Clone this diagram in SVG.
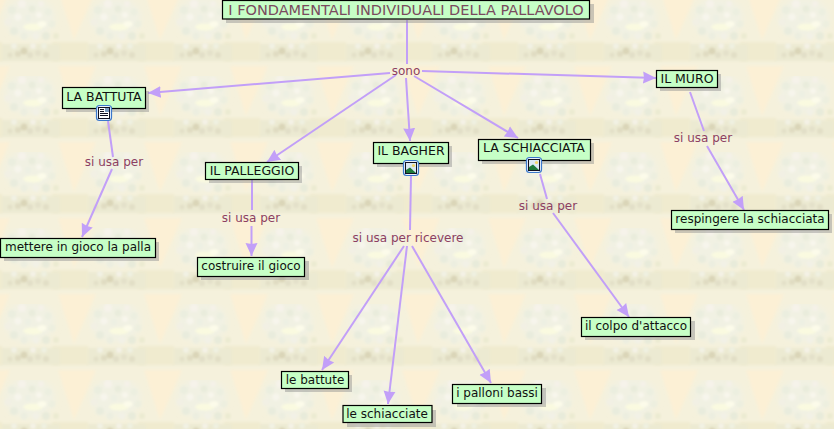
<svg xmlns="http://www.w3.org/2000/svg" width="834" height="429" viewBox="0 0 834 429">
<style>
.n{fill:#c6ffc6;stroke:#000;stroke-width:1.2}
.s{fill:#8f8f8f;opacity:.45}
.t{font-family:"DejaVu Sans",Verdana,sans-serif;font-size:12px;fill:#111;text-anchor:middle}
.l{font-family:"DejaVu Sans",Verdana,sans-serif;font-size:12px;fill:#8c3f62;text-anchor:middle}
.c{fill:none;stroke:#c29ff8;stroke-width:2}
.a{stroke:#c29ff8;stroke-width:2;fill:none;marker-end:url(#arrow)}
</style>
<defs>
<marker id="arrow" markerUnits="userSpaceOnUse" markerWidth="16" markerHeight="16" refX="13" refY="7" orient="auto">
<path d="M0,1 L13,7 L0,13 L1,7 Z" fill="#c29ff8"/>
</marker>
<filter id="b3" x="-30%" y="-30%" width="160%" height="160%"><feGaussianBlur stdDeviation="3"/></filter>
<filter id="b1" x="-30%" y="-30%" width="160%" height="160%"><feGaussianBlur stdDeviation="1.4"/></filter>
<filter id="b0" x="-5%" y="-5%" width="110%" height="110%"><feGaussianBlur stdDeviation="1.1"/></filter>
<g id="tileart">
<path d="M58,66 L96,66 L74,116 Z" fill="#fcf0d5" filter="url(#b1)"/>
<path d="M58,-10 L96,-10 L74,40 Z" fill="#fcf0d5" filter="url(#b1)"/>
<rect x="52" y="42" width="36" height="19" fill="#f0ebcf" filter="url(#b1)"/>
<rect x="0" y="44" width="60" height="17" fill="#ecead2" filter="url(#b1)"/>
<ellipse cx="30" cy="18" rx="25" ry="20" fill="#f1f1e3" filter="url(#b3)"/>
<g filter="url(#b0)">
<circle cx="18" cy="54" r="3" fill="#e0dcc2"/><circle cx="24" cy="51" r="3.500" fill="#dad5b8"/><circle cx="30" cy="55" r="3" fill="#e2dfc8"/><circle cx="38" cy="53" r="3" fill="#e4e1ca"/><circle cx="46" cy="55" r="3" fill="#e2dfc6"/><circle cx="10" cy="55" r="2.500" fill="#e3e0c8"/>
<circle cx="14" cy="46" r="3" fill="#f2f1e4"/><circle cx="33" cy="46" r="3" fill="#f4f2e6"/><circle cx="44" cy="46" r="3" fill="#eff0e0"/>
<circle cx="12" cy="10" r="4" fill="#ebeedf"/><circle cx="22" cy="4" r="4" fill="#f6f3ea"/><circle cx="32" cy="9" r="3.500" fill="#e9ecdc"/><circle cx="41" cy="4" r="3" fill="#f5f2e8"/><circle cx="48" cy="12" r="3.500" fill="#ecefe0"/>
<circle cx="8" cy="22" r="3.500" fill="#f2f0e4"/><circle cx="18" cy="17" r="3.500" fill="#f7f5ec"/><circle cx="28" cy="18" r="3" fill="#edf0e3"/><circle cx="39" cy="15" r="3" fill="#f8f6ec"/><circle cx="52" cy="24" r="3.500" fill="#edefdf"/>
<circle cx="14" cy="31" r="4" fill="#e9ecdd"/><circle cx="24" cy="36" r="3.500" fill="#eceee0"/><circle cx="36" cy="36" r="3.500" fill="#f2f1e6"/><circle cx="46" cy="36" r="4" fill="#e8ebda"/>
<ellipse cx="33" cy="27" rx="10" ry="3.500" fill="#fafae0"/><ellipse cx="42" cy="24" rx="4.500" ry="3" fill="#fcfbea"/>
<circle cx="56" cy="36" r="3" fill="#ecebd2"/>
</g>
</g>
<pattern id="bg" patternUnits="userSpaceOnUse" width="86" height="76">
<rect width="86" height="76" fill="#f5f1dc"/>
<use href="#tileart"/>
<use href="#tileart" x="-86"/>
</pattern>
<g id="picicon">
<rect x="-7.500" y="-7.500" width="15" height="15" rx="3" fill="#eaf2fc" stroke="#3b78cc" stroke-width="1.200"/>
<rect x="-5.500" y="-5.500" width="11" height="11" fill="#dbe8f4" stroke="#112" stroke-width="1"/>
<circle cx="2.500" cy="-2.500" r="1.600" fill="#f5d76a"/>
<path d="M-5,5 L-5,2 L-1,-.5 L5,5 Z" fill="#1f7a3a"/>
</g>
<g id="docicon">
<rect x="-7.500" y="-7.500" width="15" height="15" rx="3" fill="#eaf2fc" stroke="#3b78cc" stroke-width="1.200"/>
<rect x="-5.500" y="-5.500" width="11" height="11" fill="#fff" stroke="#112" stroke-width="1"/>
<rect x="1" y="-5" width="4" height="4" fill="#7a9ac0"/>
<path d="M-4,-3.500H0M-4,-1.500H0M-4,.5H4M-4,2.500H4" stroke="#112" stroke-width="1" fill="none"/>
</g>
</defs>
<rect width="834" height="429" fill="url(#bg)"/>

<g id="connectors">
<path class="c" d="M407,20V64"/>
<path class="a" d="M390,73L148,93"/>
<path class="a" d="M396,75L267,162"/>
<path class="a" d="M406,78L410,141"/>
<path class="a" d="M414,76L518,138"/>
<path class="a" d="M422,71L656,78"/>
<path class="c" d="M108,121L113,157"/>
<path class="a" d="M112,169L82,237"/>
<path class="c" d="M252,180V210"/>
<path class="a" d="M251.500,226V256"/>
<path class="c" d="M411,176L410,230"/>
<path class="a" d="M404,246L322,370"/>
<path class="a" d="M407,246L388,404"/>
<path class="a" d="M412,246L491,383"/>
<path class="c" d="M540,174L547,199"/>
<path class="a" d="M553,213L629,317"/>
<path class="c" d="M690,92L704,131"/>
<path class="a" d="M707,146L744,210"/>
</g>

<g id="labels">
<text class="l" x="406" y="75">sono</text>
<text class="l" x="114" y="166">si usa per</text>
<text class="l" x="251" y="222">si usa per</text>
<text class="l" x="408" y="242">si usa per ricevere</text>
<text class="l" x="548" y="210">si usa per</text>
<text class="l" x="703" y="142">si usa per</text>
</g>

<g id="n-title"><rect class="s" x="226" y="4" width="368" height="19"/><rect class="n" x="222.500" y="0.500" width="367" height="18.500"/><text class="t" x="406" y="15" style="fill:#7a4a5e;font-size:14.5px">I FONDAMENTALI INDIVIDUALI DELLA PALLAVOLO</text></g>
<g id="n-battuta"><rect class="s" x="66" y="91" width="83" height="21"/><rect class="n" x="62.500" y="87.500" width="83" height="21"/><text class="t" x="104" y="101" style="font-size:12.500px">LA BATTUTA</text><use href="#docicon" x="104" y="113"/></g>
<g id="n-palleggio"><rect class="s" x="209" y="166" width="93" height="17"/><rect class="n" x="205.500" y="162.500" width="93" height="17"/><text class="t" x="252" y="175" style="font-size:12.500px">IL PALLEGGIO</text></g>
<g id="n-bagher"><rect class="s" x="377" y="146" width="75" height="21"/><rect class="n" x="373.500" y="142.500" width="75" height="21"/><text class="t" x="411" y="155" style="font-size:12.500px">IL BAGHER</text><use href="#picicon" x="411" y="168"/></g>
<g id="n-schiacciata"><rect class="s" x="482" y="143" width="112" height="21"/><rect class="n" x="478.500" y="139.500" width="112" height="21"/><text class="t" x="534" y="152" style="font-size:12.500px">LA SCHIACCIATA</text><use href="#picicon" x="534" y="165"/></g>
<g id="n-muro"><rect class="s" x="660" y="74" width="61" height="17"/><rect class="n" x="656.500" y="70.500" width="61" height="17"/><text class="t" x="687" y="83" style="font-size:12.500px">IL MURO</text></g>
<g id="n-respingere"><rect class="s" x="675" y="214" width="157" height="19"/><rect class="n" x="671.500" y="210.500" width="157" height="19"/><text class="t" x="750" y="223">respingere la schiacciata</text></g>
<g id="n-mettere"><rect class="s" x="4" y="242" width="155" height="19"/><rect class="n" x="0.500" y="238.500" width="155" height="19"/><text class="t" x="78" y="251">mettere in gioco la palla</text></g>
<g id="n-costruire"><rect class="s" x="201" y="261" width="108" height="19"/><rect class="n" x="197.500" y="257.500" width="107" height="19"/><text class="t" x="251" y="270">costruire il gioco</text></g>
<g id="n-battute"><rect class="s" x="285" y="375" width="67" height="17"/><rect class="n" x="281.500" y="371.500" width="67" height="17"/><text class="t" x="315" y="384">le battute</text></g>
<g id="n-schiacciate"><rect class="s" x="347" y="410" width="89" height="17"/><rect class="n" x="343" y="405.500" width="89" height="17"/><text class="t" x="387" y="418">le schiacciate</text></g>
<g id="n-palloni"><rect class="s" x="457" y="388" width="89" height="19"/><rect class="n" x="452.500" y="384.500" width="89" height="19"/><text class="t" x="497" y="397">i palloni bassi</text></g>
<g id="n-colpo"><rect class="s" x="585" y="321" width="110" height="19"/><rect class="n" x="581.500" y="317.500" width="109" height="19"/><text class="t" x="636" y="330">il colpo d'attacco</text></g>
</svg>
